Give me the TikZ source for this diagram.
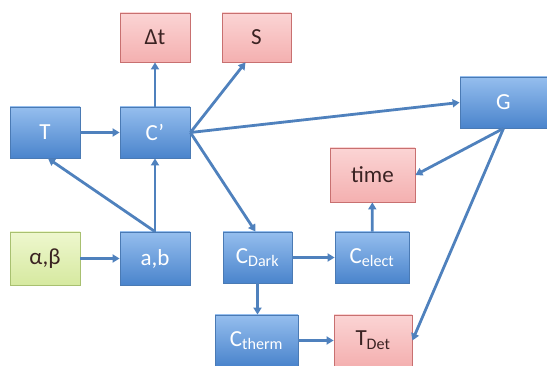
\documentclass[tikz,border=0pt]{standalone}
\usepackage{fontspec}
\setmainfont{Carlito}
\usetikzlibrary{arrows.meta,shadows}
\definecolor{bluetop}{HTML}{95BEEE}
\definecolor{bluebot}{HTML}{4A84CC}
\definecolor{blueline}{HTML}{4A7AB4}
\definecolor{redtop}{HTML}{FBD4D4}
\definecolor{redbot}{HTML}{F4B0B0}
\definecolor{redline}{HTML}{C87070}
\definecolor{greentop}{HTML}{EEF7CE}
\definecolor{greenbot}{HTML}{D6E9A0}
\definecolor{greenline}{HTML}{A8C070}
\definecolor{wire}{HTML}{4F81BD}
\definecolor{darktext}{HTML}{3A2222}
\tikzset{
  x=1pt, y=-1pt,
  box/.style={draw, line width=0.8pt, inner sep=0pt, font=\fontsize{23}{25}\selectfont,
    drop shadow={shadow xshift=1pt, shadow yshift=-1.5pt, opacity=0.25}},
  bluebox/.style={box, draw=blueline, top color=bluetop, bottom color=bluebot, text=white},
  redbox/.style={box, draw=redline, top color=redtop, bottom color=redbot, text=darktext},
  greenbox/.style={box, draw=greenline, top color=greentop, bottom color=greenbot, text=darktext},
  wirearrow/.style={draw=wire, line width=2.8pt, -{Triangle[length=7pt,width=8pt]}}
}
\begin{document}
\begin{tikzpicture}
\useasboundingbox (0,0) rectangle (547,366);
% output quantities
\node[redbox, minimum width=70pt, minimum height=49pt] (dt) at (155,37.5) {Δt};
\node[redbox, minimum width=69pt, minimum height=49pt] (S) at (256.5,37.5) {S};
\node[redbox, minimum width=85pt, minimum height=54pt] (time) at (372.5,175) {time};
\node[redbox, minimum width=78pt, minimum height=51pt] (Tdet) at (373,340.5) {T\textsubscript{Det}};
% model blocks
\node[bluebox, minimum width=70pt, minimum height=51pt] (T) at (45,132.5) {T};
\node[bluebox, minimum width=70pt, minimum height=51pt] (Cp) at (155,132.5) {C\kern0.5pt’};
\node[bluebox, minimum width=87pt, minimum height=51pt] (G) at (503.5,102.5) {G};
\node[bluebox, minimum width=70pt, minimum height=53pt] (ab) at (155,258.5) {a,b};
\node[bluebox, minimum width=69pt, minimum height=51pt] (Cdark) at (257.5,257.5) {C\textsubscript{Dark}};
\node[bluebox, minimum width=74pt, minimum height=51pt] (Celect) at (372,257.5) {C\textsubscript{elect}};
\node[bluebox, minimum width=83pt, minimum height=51pt] (Ctherm) at (256.5,340.5) {C\textsubscript{therm}};
% input parameters
\node[greenbox, minimum width=70pt, minimum height=53pt] (greek) at (45,258.5) {α,β};
% connectors
\draw[wirearrow] (T) -- (Cp);
\draw[wirearrow] (Cp) -- (dt);
\draw[wirearrow] (Cp.east) -- ([xshift=-11pt]S.south);
\draw[wirearrow] (Cp.east) -- (G.west);
\draw[wirearrow] (Cp.east) -- ([xshift=-2pt]Cdark.north);
\draw[wirearrow] (ab.north) -- ([xshift=3pt]T.south);
\draw[wirearrow] (ab) -- (Cp);
\draw[wirearrow] (greek) -- (ab);
\draw[wirearrow] (Cdark) -- (Celect);
\draw[wirearrow] (Cdark) -- (Cdark |- Ctherm.north);
\draw[wirearrow] (Celect) -- (time);
\draw[wirearrow] (G.south) -- (time.east);
\draw[wirearrow] (G.south) -- (Tdet.east);
\draw[wirearrow] (Ctherm) -- (Tdet);
\end{tikzpicture}
\end{document}
